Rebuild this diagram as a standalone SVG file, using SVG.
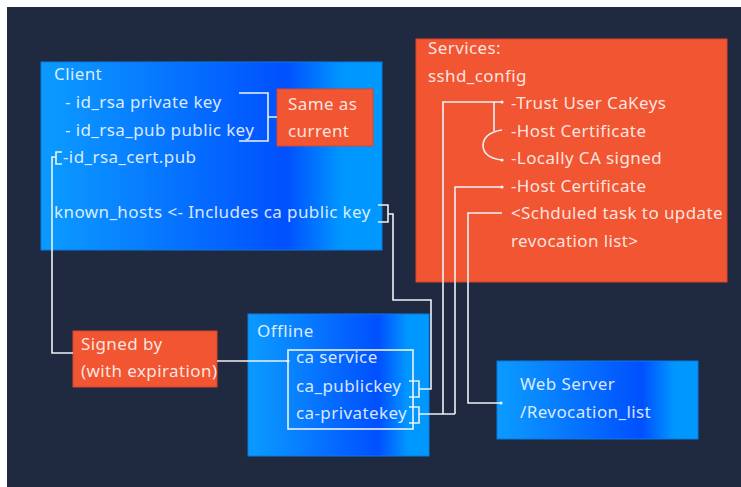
<svg xmlns="http://www.w3.org/2000/svg" width="741" height="487" viewBox="0 0 741 487">
  <defs>
    <linearGradient id="blueFill" x1="0" y1="0" x2="1" y2="0">
      <stop offset="0" stop-color="#0a9bff"/>
      <stop offset="0.15" stop-color="#0a8dff"/>
      <stop offset="0.72" stop-color="#0050ff"/>
      <stop offset="0.88" stop-color="#0096ff"/>
      <stop offset="1" stop-color="#0099ff"/>
    </linearGradient>
    <marker id="dot" markerWidth="4" markerHeight="4" refX="2" refY="2" markerUnits="userSpaceOnUse">
      <circle cx="2" cy="2" r="1.6" fill="#eef2f7"/>
    </marker>
    <style>
      .blue { fill: url(#blueFill); stroke: #0a78e6; stroke-width: 1; }
      .red { fill: #f25532; stroke: #d8462a; stroke-width: 1; }
      .txt { font-family: "Noto Sans", "Open Sans", sans-serif; font-size: 17px; letter-spacing: 0.4px; fill: #ffffff; fill-opacity: 0.86; }
      .wire { fill: none; stroke: #eef2f7; stroke-width: 1.6; }
      .frame { fill: none; stroke: #eef2f7; stroke-width: 1.6; }
    </style>
  </defs>

  <rect x="7" y="7" width="734" height="480" fill="#1f2a40"/>

  <g id="client">
    <rect class="blue" x="41" y="62" width="341" height="188"/>
    <text class="txt" x="54" y="80">Client</text>
    <text class="txt" x="65" y="108">- id_rsa private key</text>
    <text class="txt" x="65" y="136">- id_rsa_pub public key</text>
    <text class="txt" x="63" y="163">-id_rsa_cert.pub</text>
    <text class="txt" x="54" y="218">known_hosts &lt;- Includes ca public key</text>
  </g>

  <g id="same-as-current">
    <rect class="red" x="277" y="89" width="96" height="57"/>
    <text class="txt" x="288" y="110">Same as</text>
    <text class="txt" x="288" y="137">current</text>
  </g>

  <g id="services">
    <rect class="red" x="416" y="39" width="311" height="243"/>
    <text class="txt" x="428" y="54">Services:</text>
    <text class="txt" x="428" y="82">sshd_config</text>
    <text class="txt" x="511" y="109">-Trust User CaKeys</text>
    <text class="txt" x="511" y="137">-Host Certificate</text>
    <text class="txt" x="511" y="164">-Locally CA signed</text>
    <text class="txt" x="511" y="192">-Host Certificate</text>
    <text class="txt" x="511" y="219">&lt;Schduled task to update</text>
    <text class="txt" x="511" y="247">revocation list&gt;</text>
  </g>

  <g id="signed-by">
    <rect class="red" x="73" y="331" width="144" height="56"/>
    <text class="txt" x="81" y="350">Signed by</text>
    <text class="txt" x="81" y="377">(with expiration)</text>
  </g>

  <g id="offline">
    <rect class="blue" x="248" y="314" width="181" height="142"/>
    <text class="txt" x="257" y="337">Offline</text>
    <rect class="frame" x="288" y="350" width="125" height="79"/>
    <text class="txt" x="296" y="363">ca service</text>
    <text class="txt" x="296" y="392">ca_publickey</text>
    <text class="txt" x="296" y="419">ca-privatekey</text>
  </g>

  <g id="web-server">
    <rect class="blue" x="497" y="361" width="201" height="78"/>
    <text class="txt" x="520" y="390">Web Server</text>
    <text class="txt" x="520" y="418">/Revocation_list</text>
  </g>

  <g id="connectors">
    <!-- key pair bracket to "Same as current" -->
    <path class="wire" d="M239,93 H268 V141 H239 M268,117 H277"/>
    <!-- certificate bracket to "Signed by" -->
    <path class="wire" d="M62,152 H56 V164 H62 M56,157 H52 V353 H73"/>
    <!-- "Signed by" to ca service -->
    <path class="wire" d="M217,361 H288" marker-end="url(#dot)"/>
    <!-- known_hosts bracket to ca_publickey bracket -->
    <path class="wire" d="M378,205 H388 V222 H378 M388,214 H393 V300 H431 V389 H419"/>
    <path class="wire" d="M409,381 H419 V397 H409"/>
    <!-- ca-privatekey bracket to sshd_config entries -->
    <path class="wire" d="M409,407 H419 V423 H409 M419,414 H455"/>
    <path class="wire" d="M443,414 V102 H502" marker-end="url(#dot)"/>
    <path class="wire" d="M455,414 V187 H502" marker-end="url(#dot)"/>
    <path class="wire" d="M494,102 V131"/>
    <path class="wire" d="M502,130 Q483,133 483,146 Q484,158 502,160" marker-end="url(#dot)"/>
    <!-- revocation task to web server -->
    <path class="wire" d="M502,213 H468 V403 H501" marker-end="url(#dot)"/>
  </g>
</svg>
